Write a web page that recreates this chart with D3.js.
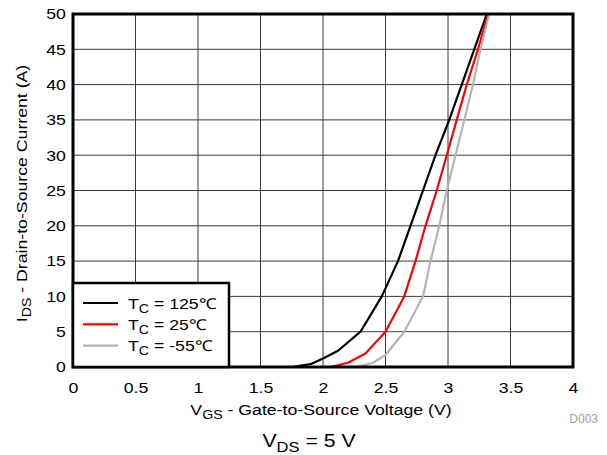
<!DOCTYPE html>
<html>
<head>
<meta charset="utf-8">
<script src="https://cdnjs.cloudflare.com/ajax/libs/d3/7.8.5/d3.min.js"></script>
<style>
  body { margin: 0; background: #fff; }
  svg text { font-family: "Liberation Sans", Arial, sans-serif; }
</style>
</head>
<body>
<script>
// data: [Vgs, Ids]
var hot = [[1.75,0],[1.9,0.4],[2.0,1.2],[2.12,2.3],[2.3,5],[2.47,10],[2.6,15],[2.7,20],[2.8,25],[2.9,30],[3.01,35],[3.11,40],[3.21,45],[3.31,50]];
var room = [[2.06,0],[2.2,0.6],[2.34,1.9],[2.5,5],[2.65,10],[2.74,15],[2.82,20],[2.91,25],[2.99,30],[3.07,35],[3.15,40],[3.24,45],[3.32,50]];
var cold = [[2.27,0],[2.4,0.6],[2.5,1.7],[2.65,5],[2.8,10],[2.86,15],[2.93,20],[2.99,25],[3.06,30],[3.13,35],[3.2,40],[3.26,45],[3.33,50]];
var seriesNames = ["125\u2103", "25\u2103", "-55\u2103"];
var seriesColors = ["#000000", "#ff0000", "#b4b4b4"];
var xTicks = [0, 0.5, 1, 1.5, 2, 2.5, 3, 3.5, 4];
var yTicks = [0, 5, 10, 15, 20, 25, 30, 35, 40, 45, 50];

var W = 607, H = 455;
var margin = {top: 14, right: 34, bottom: 88, left: 73},
    width = W - margin.left - margin.right,
    height = H - margin.top - margin.bottom;
var sx = 1.18; // the source font runs wider than Arial

var svg = d3.select("body").append("svg")
    .attr("width", W)
    .attr("height", H);

var g = svg.append("g")
    .attr("transform", "translate(" + margin.left + "," + margin.top + ")");

var x = d3.scaleLinear().domain([0, 4]).range([0, width]);
var y = d3.scaleLinear().domain([0, 50]).range([height, 0]);

// grid
g.append("g").selectAll("line").data(xTicks.slice(1, -1)).enter().append("line")
    .attr("x1", d => x(d)).attr("x2", d => x(d))
    .attr("y1", 0).attr("y2", height)
    .attr("stroke", "#3a3a3a").attr("stroke-width", 1);
g.append("g").selectAll("line").data(yTicks.slice(1, -1)).enter().append("line")
    .attr("y1", d => y(d)).attr("y2", d => y(d))
    .attr("x1", 0).attr("x2", width)
    .attr("stroke", "#3a3a3a").attr("stroke-width", 1);

// axes (tick labels only)
var xAxis = g.append("g")
    .attr("transform", "translate(0," + height + ")")
    .call(d3.axisBottom(x).tickValues(xTicks).tickSize(0).tickPadding(15).tickFormat(d3.format("")));
var yAxis = g.append("g")
    .call(d3.axisLeft(y).tickValues(yTicks).tickSize(0).tickPadding(6));
[xAxis, yAxis].forEach(function(a) {
  a.select(".domain").remove();
  a.selectAll("text").attr("font-size", 15).attr("fill", "#000")
    .style("font-family", "'Liberation Sans', Arial, sans-serif")
    .attr("transform", "scale(" + sx + ",1)");
});

// curves
var line = d3.line().x(d => x(d[0])).y(d => y(d[1]));
var series = [hot, room, cold];
g.selectAll(".curve").data(series).enter().append("path")
    .attr("class", "curve")
    .attr("d", line)
    .attr("fill", "none")
    .attr("stroke", (d, i) => seriesColors[i])
    .attr("stroke-width", 2.2)
    .attr("stroke-linejoin", "round");

// frame
g.append("rect")
    .attr("x", 0).attr("y", 0)
    .attr("width", width).attr("height", height)
    .attr("fill", "none").attr("stroke", "#000").attr("stroke-width", 3);

// legend
var lg = g.append("g").attr("transform", "translate(0," + (height - 84) + ")");
lg.append("rect")
    .attr("x", 0).attr("y", 0).attr("width", 156).attr("height", 84)
    .attr("fill", "#fff").attr("stroke", "#000").attr("stroke-width", 2.5);
var item = lg.selectAll(".item").data(seriesNames).enter().append("g")
    .attr("class", "item")
    .attr("transform", (d, i) => "translate(0," + (20 + i * 21.3) + ")");
item.append("line")
    .attr("x1", 10).attr("x2", 45).attr("y1", 0).attr("y2", 0)
    .attr("stroke", (d, i) => seriesColors[i]).attr("stroke-width", 2.2);
var lt = item.append("text")
    .attr("transform", "translate(55,5.5) scale(" + sx + ",1)")
    .attr("font-size", 15).attr("fill", "#000");
lt.append("tspan").text("T");
lt.append("tspan").attr("dy", 4).attr("font-size", 12).text("C");
lt.append("tspan").attr("dy", -4).text(d => " = " + d);

// axis titles
var xt = svg.append("text")
    .attr("transform", "translate(" + (margin.left + width / 2 - 2) + ",415) scale(" + sx + ",1)")
    .attr("text-anchor", "middle").attr("font-size", 15).attr("fill", "#000");
xt.append("tspan").text("V");
xt.append("tspan").attr("dy", 4).attr("font-size", 12).text("GS");
xt.append("tspan").attr("dy", -4).text(" - Gate-to-Source Voltage (V)");

var yt = svg.append("text")
    .attr("transform", "translate(27," + (margin.top + height / 2 + 3) + ") rotate(-90) scale(" + sx + ",1)")
    .attr("text-anchor", "middle").attr("font-size", 15).attr("fill", "#000");
yt.append("tspan").text("I");
yt.append("tspan").attr("dy", 4).attr("font-size", 12).text("DS");
yt.append("tspan").attr("dy", -4).text(" - Drain-to-Source Current (A)");

svg.append("text")
    .attr("x", 598).attr("y", 423)
    .attr("text-anchor", "end").attr("font-size", 12).attr("fill", "#a0a0a0")
    .text("D003");

var vt = svg.append("text")
    .attr("transform", "translate(" + (margin.left + width / 2 - 14) + ",447) scale(" + sx + ",1)")
    .attr("text-anchor", "middle").attr("font-size", 18).attr("fill", "#000");
vt.append("tspan").text("V");
vt.append("tspan").attr("dy", 5).attr("font-size", 14).text("DS");
vt.append("tspan").attr("dy", -5).text(" = 5 V");
</script>
</body>
</html>
